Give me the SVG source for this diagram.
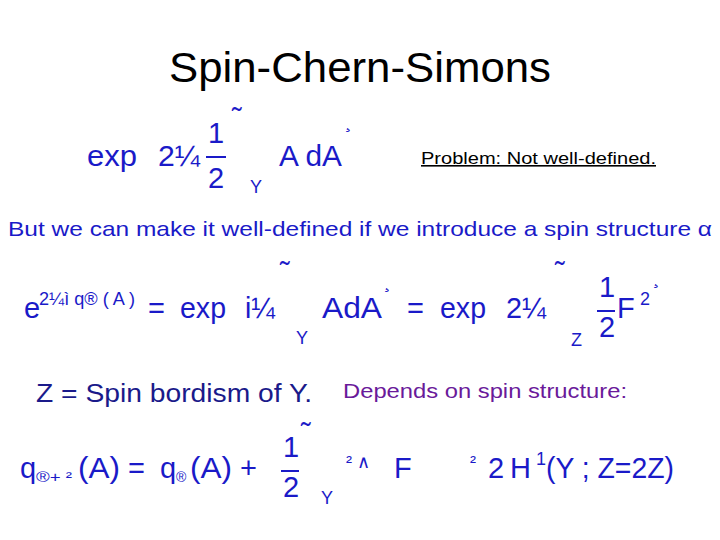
<svg xmlns="http://www.w3.org/2000/svg" width="720" height="540" viewBox="0 0 720 540">
<style>
text{font-family:"Liberation Sans",Arial,sans-serif}
.m{fill:#1a1ac8}
.b{font-size:29px}
.s{font-size:18px}
.t{font-size:20px}
</style>
<rect width="720" height="540" fill="#fff"/>
<text x="360" y="82" font-size="42" text-anchor="middle" fill="#000" textLength="382" lengthAdjust="spacingAndGlyphs">Spin-Chern-Simons</text>
<g class="m">
<text x="87" y="166" class="b" textLength="50" lengthAdjust="spacingAndGlyphs">exp</text>
<text x="158" y="166" class="b" textLength="42" lengthAdjust="spacingAndGlyphs">2¼</text>
<text x="208" y="143" class="b">1</text>
<rect x="206" y="156" width="20" height="2"/>
<text x="208" y="188" class="b">2</text>
<text x="232" y="128" class="b">˜</text>
<text x="250" y="193" class="s">Y</text>
<text x="279" y="166" class="b" textLength="63" lengthAdjust="spacingAndGlyphs">A dA</text>
<text x="345" y="128" class="t">¸</text>
</g>
<text x="421" y="164" font-size="16" fill="#000" text-decoration="underline" textLength="235" lengthAdjust="spacingAndGlyphs">Problem: Not well-defined.</text>
<text x="8" y="236" font-size="21" class="m" textLength="704" lengthAdjust="spacingAndGlyphs">But we can make it well-defined if we introduce a  spin structure  α</text>
<g class="m">
<text x="24" y="318" class="b">e</text>
<text x="39" y="305" class="s" textLength="96" lengthAdjust="spacingAndGlyphs">2¼ì q® ( A )</text>
<text x="148" y="318" class="b">=</text>
<text x="180" y="318" class="b" textLength="46" lengthAdjust="spacingAndGlyphs">exp</text>
<text x="245" y="318" class="b" textLength="30" lengthAdjust="spacingAndGlyphs">i¼</text>
<text x="280" y="282" class="b">˜</text>
<text x="296" y="344" class="s">Y</text>
<text x="322" y="318" class="b" textLength="60" lengthAdjust="spacingAndGlyphs">AdA</text>
<text x="384" y="288" class="t">¸</text>
<text x="407" y="318" class="b">=</text>
<text x="440" y="318" class="b" textLength="46" lengthAdjust="spacingAndGlyphs">exp</text>
<text x="506" y="318" class="b" textLength="40" lengthAdjust="spacingAndGlyphs">2¼</text>
<text x="555" y="282" class="b">˜</text>
<text x="571" y="346" class="s">Z</text>
<text x="599" y="297" class="b">1</text>
<rect x="597" y="310" width="18" height="2"/>
<text x="599" y="337" class="b">2</text>
<text x="617" y="318" class="b">F</text>
<text x="640" y="305" class="s">2</text>
<text x="653" y="284" class="t">¸</text>
</g>
<text x="36" y="402" font-size="25" fill="#1a1a8a" textLength="276" lengthAdjust="spacingAndGlyphs">Z = Spin bordism of Y.</text>
<text x="343" y="398" font-size="21" fill="#6a1a9a" textLength="284" lengthAdjust="spacingAndGlyphs">Depends on spin structure:</text>
<g class="m">
<text x="20" y="478" class="b">q</text>
<text x="36" y="482" font-size="14" textLength="36" lengthAdjust="spacingAndGlyphs">®+ ²</text>
<text x="78" y="478" class="b" textLength="42" lengthAdjust="spacingAndGlyphs">(A)</text>
<text x="128" y="478" class="b">=</text>
<text x="160" y="478" class="b">q</text>
<text x="176" y="482" font-size="14">®</text>
<text x="190" y="478" class="b" textLength="42" lengthAdjust="spacingAndGlyphs">(A)</text>
<text x="240" y="478" class="b">+</text>
<text x="283" y="457" class="b">1</text>
<rect x="281" y="470" width="18" height="2"/>
<text x="283" y="497" class="b">2</text>
<text x="301" y="443" class="b">˜</text>
<text x="321" y="504" class="s">Y</text>
<text x="346" y="468" class="s">² ∧</text>
<text x="394" y="478" class="b">F</text>
<text x="470" y="468" class="s">²</text>
<text x="488" y="478" class="b">2</text>
<text x="510" y="478" class="b">H</text>
<text x="536" y="465" class="s">1</text>
<text x="546" y="478" class="b" textLength="128" lengthAdjust="spacingAndGlyphs">(Y ; Z=2Z)</text>
</g>
</svg>
